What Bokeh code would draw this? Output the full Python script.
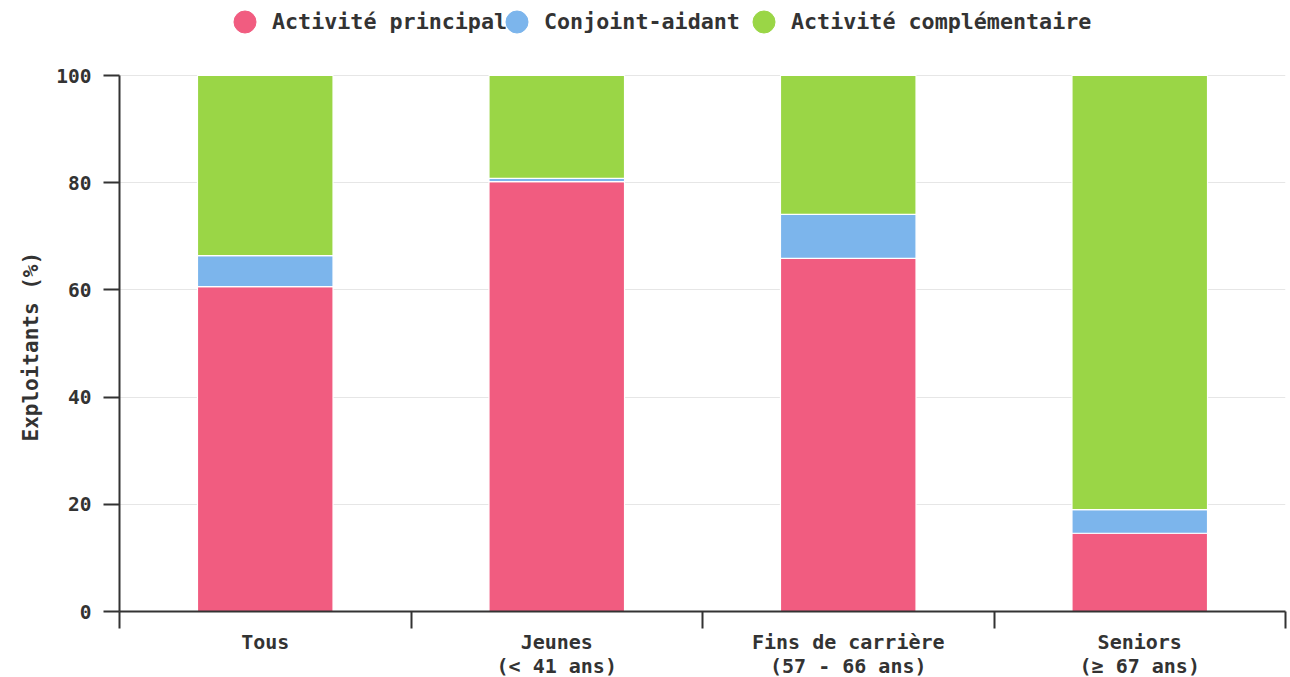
from bokeh.plotting import figure
from bokeh.models import ColumnDataSource, FixedTicker, Legend, LegendItem, Range1d, Title
from bokeh.embed import file_html
from bokeh.resources import INLINE

categories = ["Tous", "Jeunes\n(< 41 ans)", "Fins de carrière\n(57 - 66 ans)", "Seniors\n(≥ 67 ans)"]
positions = [0.5, 1.5, 2.5, 3.5]
series_names = ["Activité principal", "Conjoint-aidant", "Activité complémentaire"]
principal = [60.6, 80.2, 65.9, 14.6]
conjoint = [5.8, 0.6, 8.2, 4.4]
complementaire = [33.6, 19.2, 25.9, 81.0]
colors = ["#f15c80", "#7cb5ec", "#9ad646"]
y_ticks = [0, 20, 40, 60, 80, 100]
y_title = "Exploitants (%)"

FONT = "DejaVu Sans Mono"
DARK = "#333333"

# The frame extends up to the page top so the legend can sit inside it;
# the value axis itself runs 0-100 over the lower 536 px.
FRAME_H = 611
PLOT_H = 536
Y_TOP = 100 * FRAME_H / PLOT_H

source = ColumnDataSource(data=dict(
    x=positions, principal=principal, conjoint=conjoint, complementaire=complementaire,
))

p = figure(frame_width=1166, frame_height=FRAME_H, output_backend="svg", toolbar_location=None,
           x_range=Range1d(0, 4), y_range=Range1d(0, Y_TOP),
           min_border_left=119, min_border_right=5, min_border_top=0, min_border_bottom=60)
p.outline_line_color = None
p.background_fill_color = "white"

renderers = p.vbar_stack(["principal", "conjoint", "complementaire"], x="x", width=0.465,
                         source=source, color=colors, line_color="white", line_width=1.2)

# legend proxies (circle icons), placed outside the visible range; one legend box per item
legend_x = [98, 370, 617]
for name, c, lx in zip(series_names, colors, legend_x):
    r = p.scatter(x=[-10], y=[-10], marker="circle", size=22, fill_color=c, line_color=c)
    lg = Legend(items=[LegendItem(label=name, renderers=[r])], orientation="horizontal",
                location=(lx, 562),
                label_text_font=FONT, label_text_font_style="bold", label_text_font_size="21.7px",
                label_text_color=DARK, glyph_width=55, glyph_height=55, label_standoff=0,
                spacing=0, padding=0, margin=0, border_line_color=None, background_fill_alpha=0)
    p.add_layout(lg, "center")

# y axis
ya = p.yaxis[0]
ya.ticker = FixedTicker(ticks=y_ticks)
ya.bounds = (0, 100)
ya.major_label_text_font = FONT
ya.major_label_text_font_style = "bold"
ya.major_label_text_font_size = "19.5px"
ya.major_label_text_color = DARK
ya.major_label_standoff = 12
ya.major_tick_out = 16
ya.major_tick_in = 0
ya.minor_tick_out = 0
ya.minor_tick_in = 0
ya.axis_line_color = DARK
ya.axis_line_width = 2
ya.major_tick_line_color = DARK
ya.major_tick_line_width = 2

# y axis title, centred on the 0-100 span
ytitle = Title(text=y_title, align="left", offset=170, standoff=22, padding=0,
               text_line_height=1.0,
               text_font=FONT, text_font_style="bold", text_font_size="21px", text_color=DARK)
p.add_layout(ytitle, "left")

# x axis: labels at category centers, boundary ticks as minor ticks
xa = p.xaxis[0]
xa.ticker = FixedTicker(ticks=positions, minor_ticks=[0, 1, 2, 3, 4])
xa.major_label_overrides = {pos: lab for pos, lab in zip(positions, categories)}
xa.major_tick_out = 0
xa.major_tick_in = 0
xa.minor_tick_out = 17
xa.minor_tick_in = 0
xa.minor_tick_line_color = DARK
xa.minor_tick_line_width = 2
xa.axis_line_color = DARK
xa.axis_line_width = 2
xa.major_label_standoff = 1
xa.major_label_text_font = FONT
xa.major_label_text_font_style = "bold"
xa.major_label_text_font_size = "20px"
xa.major_label_text_color = DARK
xa.major_label_text_line_height = 1.0

p.xgrid.grid_line_color = None
p.ygrid.ticker = FixedTicker(ticks=y_ticks)
p.ygrid.grid_line_color = "#e6e6e6"
p.ygrid.grid_line_width = 1

open("out.html", "w").write(file_html(p, INLINE))
